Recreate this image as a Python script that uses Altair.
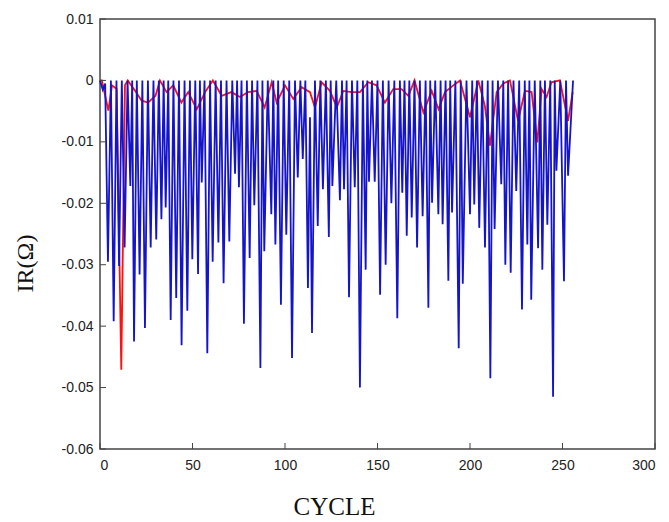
import altair as alt
import pandas as pd

x_ticks = [0, 50, 100, 150, 200, 250, 300]
y_ticks = [-0.06, -0.05, -0.04, -0.03, -0.02, -0.01, 0, 0.01]

# Blue series: downward spikes (cycle, IR)
spike_cycle = [4.3, 7.4, 10.3, 13.3, 16.4, 18.4, 21.4, 24.3, 27.4, 30.4,
               33.2, 35.5, 38.2, 41.2, 44.1, 47.2, 49.9, 53.0, 55.0, 58.0,
               60.9, 64.0, 66.8, 69.9, 73.0, 75.1, 77.8, 80.9, 83.4, 86.7,
               88.8, 92.6, 94.8, 97.8, 100.7, 103.8, 106.9, 109.6, 112.4, 114.6,
               117.7, 120.5, 123.7, 125.6, 129.7, 131.9, 134.6, 137.7, 140.5, 143.6,
               145.4, 148.5, 151.4, 154.4, 157.5, 160.7, 163.4, 165.8, 168.5, 171.4,
               174.4, 177.5, 179.5, 182.9, 185.2, 188.3, 190.3, 193.9, 196.1, 200.0,
               202.3, 205.0, 208.1, 211.0, 213.3, 216.9, 219.1, 222.0, 225.0, 228.1,
               231.0, 233.1, 236.8, 239.1, 241.8, 244.9, 246.7, 250.8, 253.0]
spike_ir = [-0.0295, -0.0392, -0.0302, -0.0272, -0.0172, -0.0425, -0.0316, -0.0403, -0.0272, -0.0259,
            -0.0226, -0.0207, -0.0390, -0.0354, -0.0431, -0.0375, -0.0291, -0.0315, -0.0166, -0.0444,
            -0.0295, -0.0264, -0.0330, -0.0262, -0.0152, -0.0174, -0.0396, -0.0289, -0.0203, -0.0468,
            -0.0278, -0.0218, -0.0267, -0.0365, -0.0251, -0.0452, -0.0158, -0.0128, -0.0338, -0.0411,
            -0.0237, -0.0177, -0.0255, -0.0172, -0.0195, -0.0177, -0.0353, -0.0174, -0.0500, -0.0308,
            -0.0165, -0.0165, -0.0349, -0.0300, -0.0200, -0.0387, -0.0183, -0.0253, -0.0223, -0.0272,
            -0.0221, -0.0370, -0.0199, -0.0218, -0.0234, -0.0326, -0.0215, -0.0436, -0.0331, -0.0218,
            -0.0202, -0.0240, -0.0272, -0.0485, -0.0242, -0.0169, -0.0300, -0.0313, -0.0180, -0.0373,
            -0.0267, -0.0357, -0.0273, -0.0308, -0.0235, -0.0515, -0.0147, -0.0327, -0.0155]

# Blue series: upper vertices between spikes (cycle, IR)
blue_tops = [(0, 0.0), (1.5, -0.0015), (2.8, -0.0005), (5.9, 0.0), (8.9, 0.0), (11.8, 0.0),
             (14.9, 0.0), (17.4, 0.0), (19.9, 0.0), (22.9, 0.0), (25.9, 0.0), (28.9, 0.0),
             (31.8, 0.0), (34.4, 0.0), (36.9, 0.0), (39.7, 0.0), (42.7, 0.0), (45.7, 0.0),
             (48.6, 0.0), (51.5, 0.0), (54.0, 0.0), (56.5, 0.0), (59.5, 0.0), (62.5, 0.0),
             (65.4, 0.0), (68.4, 0.0), (71.5, 0.0), (74.1, 0.0), (76.5, 0.0), (79.4, 0.0),
             (82.2, 0.0), (85.1, 0.0), (87.8, 0.0), (90.7, 0.0), (93.7, 0.0), (96.3, 0.0),
             (99.3, 0.0), (102.3, 0.0), (105.4, 0.0), (108.3, 0.0), (111.0, 0.0), (113.5, -0.006),
             (116.2, 0.0), (119.1, 0.0), (122.1, 0.0), (124.7, 0.0), (127.7, 0.0), (130.8, 0.0),
             (133.3, 0.0), (136.2, 0.0), (139.1, 0.0), (142.1, 0.0), (144.5, 0.0), (147.0, 0.0),
             (150.0, 0.0), (152.9, 0.0), (156.0, 0.0), (159.1, 0.0), (162.1, 0.0), (164.6, 0.0),
             (167.2, 0.0), (170.0, 0.0), (172.9, 0.0), (176.0, 0.0), (178.5, 0.0), (181.2, 0.0),
             (184.1, 0.0), (186.8, 0.0), (189.3, 0.0), (192.1, 0.0), (195.0, 0.0), (198.1, 0.0),
             (201.2, 0.0), (203.7, 0.0), (206.6, 0.0), (209.6, 0.0), (212.2, 0.0), (215.1, 0.0),
             (218.0, 0.0), (220.6, 0.0), (223.5, 0.0), (226.6, 0.0), (229.6, 0.0), (232.1, 0.0),
             (235.0, 0.0), (238.0, 0.0), (240.5, 0.0), (243.4, 0.0), (245.8, 0.0), (248.8, 0.0),
             (251.9, 0.0), (255.7, 0.0)]

# Red series
red_cycle = [0, 1, 4.5, 6.5, 9, 11.5, 13.5, 15, 19, 22.5,
             26, 30, 32.4, 36, 39.6, 44, 47.7, 52.3, 56.8, 61,
             65.8, 71, 75.7, 80, 84.7, 89, 92.8, 95.5, 100, 104.5,
             109, 113.5, 116.2, 119.8, 124.3, 128, 131.5, 136, 140.5, 145,
             149.5, 154, 158.5, 163, 166.7, 170, 174.8, 179.3, 183, 186.5,
             191, 194.6, 200, 204.5, 208, 210.8, 214.4, 218, 221.6, 226,
             229.7, 233.3, 236.4, 238.7, 241.4, 244, 248.6, 253, 255.5]
red_ir = [0, 0, -0.0049, -0.0008, -0.0014, -0.0471, -0.0008, 0, -0.0017, -0.0033,
          -0.0036, -0.0025, 0, -0.0019, -0.0008, -0.0036, -0.0019, -0.0047, -0.0019, 0,
          -0.0025, -0.0019, -0.0027, -0.0019, -0.0017, -0.0044, -0.0003, -0.0036, -0.0008, -0.0030,
          -0.0011, -0.0019, -0.0044, -0.0003, -0.0017, -0.0044, -0.0017, -0.0019, -0.0019, -0.0003,
          -0.0008, -0.0036, -0.0014, -0.0014, -0.0025, 0, -0.0052, -0.0017, -0.0047, -0.0019,
          -0.0008, 0, -0.0060, 0, -0.0041, -0.0106, -0.0019, -0.0005, 0, -0.0066,
          -0.0017, -0.0019, -0.0101, -0.0014, -0.0027, -0.0003, 0, -0.0066, -0.0019]

blue_df = pd.DataFrame({
    "cycle": spike_cycle + [c for c, _ in blue_tops],
    "ir": spike_ir + [v for _, v in blue_tops],
})
red_df = pd.DataFrame({"cycle": red_cycle, "ir": red_ir})
xt_df = pd.DataFrame({"cycle": x_ticks})
yt_df = pd.DataFrame({"ir": y_ticks})

W, H = 555, 430
xs = alt.Scale(domain=[0, 300], nice=False, zero=False)
ys = alt.Scale(domain=[-0.06, 0.01], nice=False, zero=False)

x_axis = alt.Axis(values=x_ticks, title="CYCLE", grid=False, ticks=False, domain=False,
                  labelFont="Liberation Sans", labelFontSize=14, labelColor="#222",
                  labelPadding=9, titleFont="Liberation Serif", titleFontSize=25,
                  titleFontWeight="normal", titleColor="#111", titleX=234, titleY=57,
                  titleAlign="center", titleBaseline="middle")
y_axis = alt.Axis(values=y_ticks, title="IR(Ω)", grid=False, ticks=False, domain=False,
                  labelExpr="datum.value == 0 ? '0' : (datum.value < 0 ? '-' : '') + format(abs(datum.value), '.2f')",
                  labelFont="Liberation Sans", labelFontSize=14, labelColor="#222",
                  labelPadding=7, titleFont="Liberation Serif", titleFontSize=24,
                  titleFontWeight="normal", titleColor="#111", titleX=-75, titleY=244,
                  titleAngle=270, titleAlign="center", titleBaseline="middle")

X = alt.X("cycle:Q", scale=xs, axis=x_axis)
Y = alt.Y("ir:Q", scale=ys, axis=y_axis)

red = alt.Chart(red_df).mark_line(color="#FF1010", strokeWidth=1.8).encode(x=X, y=Y)
blue = alt.Chart(blue_df).mark_line(color="#1414CC", strokeWidth=1.8).encode(x=X, y=Y)
yticks = alt.Chart(yt_df).mark_rule(color="#444", strokeWidth=1).encode(
    y=Y, x=alt.value(0), x2=alt.value(6))
xticks = alt.Chart(xt_df).mark_rule(color="#444", strokeWidth=1).encode(
    x=X, y=alt.value(H), y2=alt.value(H - 6))

chart = alt.layer(red, blue, yticks, xticks).properties(
    width=W, height=H,
    autosize=alt.AutoSizeParams(type="none"),
    padding={"left": 100, "top": 19, "right": 14, "bottom": 73},
    background="white",
).configure_view(stroke="#444", strokeWidth=1.5)

chart.save("out.html", embed_options={"renderer": "svg", "actions": False})
